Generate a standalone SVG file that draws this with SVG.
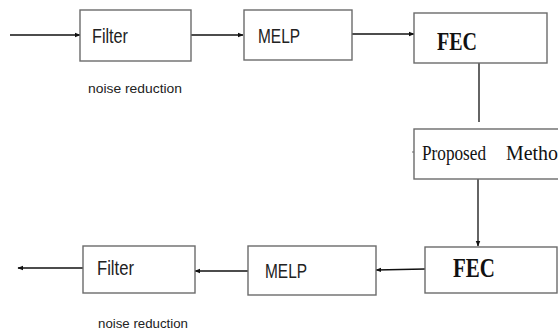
<svg xmlns="http://www.w3.org/2000/svg" width="558" height="331" viewBox="0 0 558 331">
<style>
.box{fill:#fff;stroke:#6b6b6b;stroke-width:1.4}
.line{fill:none;stroke:#111;stroke-width:1.3}
.arr{marker-end:url(#ah)}
.cal{font-family:"Liberation Sans",Arial,sans-serif;fill:#222}
.tnr{font-family:"Liberation Serif","Times New Roman",serif;fill:#111}
</style>
<defs>
<marker id="ah" viewBox="0 0 10 10" refX="9" refY="5" markerWidth="6" markerHeight="6" markerUnits="userSpaceOnUse" orient="auto">
<path d="M0,1 L10,5 L0,9 z" fill="#111"/>
</marker>
</defs>
<rect width="558" height="331" fill="#fff"/>
<g id="connectors">
<line class="line arr" x1="10" y1="35" x2="80" y2="35"/>
<line class="line arr" x1="191" y1="35" x2="243" y2="35"/>
<line class="line arr" x1="352" y1="34" x2="414" y2="34"/>
<line class="line" x1="479" y1="63" x2="479" y2="122"/>
<line class="line arr" x1="478" y1="179" x2="478" y2="246"/>
<line class="line arr" x1="425" y1="269" x2="376" y2="270"/>
<line class="line arr" x1="248" y1="271" x2="195" y2="271"/>
<line class="line arr" x1="83" y1="268" x2="18" y2="268"/>
</g>
<g id="filter-top">
<rect class="box" x="80" y="10" width="111" height="51"/>
<text class="cal" x="92" y="43" font-size="19.5" textLength="36" lengthAdjust="spacingAndGlyphs">Filter</text>
</g>
<g id="noise-top">
<text class="cal" x="88" y="93" font-size="13" textLength="94" lengthAdjust="spacingAndGlyphs">noise reduction</text>
</g>
<g id="melp-top">
<rect class="box" x="244" y="10" width="108" height="50"/>
<text class="cal" x="258" y="43" font-size="19.5" textLength="42" lengthAdjust="spacingAndGlyphs">MELP</text>
</g>
<g id="fec-top">
<rect class="box" x="414" y="13" width="133" height="50"/>
<text class="tnr" x="437" y="50" font-size="26" font-weight="bold" textLength="40" lengthAdjust="spacingAndGlyphs">FEC</text>
</g>
<g id="proposed">
<rect class="box" x="414" y="129" width="150" height="50"/>
<line x1="412" y1="152" x2="414" y2="152" stroke="#6b6b6b" stroke-width="1.2"/>
<text class="tnr" x="422" y="160" font-size="20" textLength="64" lengthAdjust="spacingAndGlyphs">Proposed</text>
<text class="tnr" x="506" y="160" font-size="20" textLength="62" lengthAdjust="spacingAndGlyphs">Method</text>
</g>
<g id="fec-bottom">
<rect class="box" x="425" y="247" width="132" height="46"/>
<text class="tnr" x="453" y="277" font-size="27" font-weight="bold" textLength="42" lengthAdjust="spacingAndGlyphs">FEC</text>
</g>
<g id="melp-bottom">
<rect class="box" x="248" y="246" width="128" height="49"/>
<text class="cal" x="265" y="278" font-size="19.5" textLength="42" lengthAdjust="spacingAndGlyphs">MELP</text>
</g>
<g id="filter-bottom">
<rect class="box" x="83" y="246" width="112" height="47"/>
<text class="cal" x="97" y="275" font-size="19.5" textLength="37" lengthAdjust="spacingAndGlyphs">Filter</text>
</g>
<g id="noise-bottom">
<text class="cal" x="98" y="328" font-size="13" textLength="90" lengthAdjust="spacingAndGlyphs">noise reduction</text>
</g>
</svg>
